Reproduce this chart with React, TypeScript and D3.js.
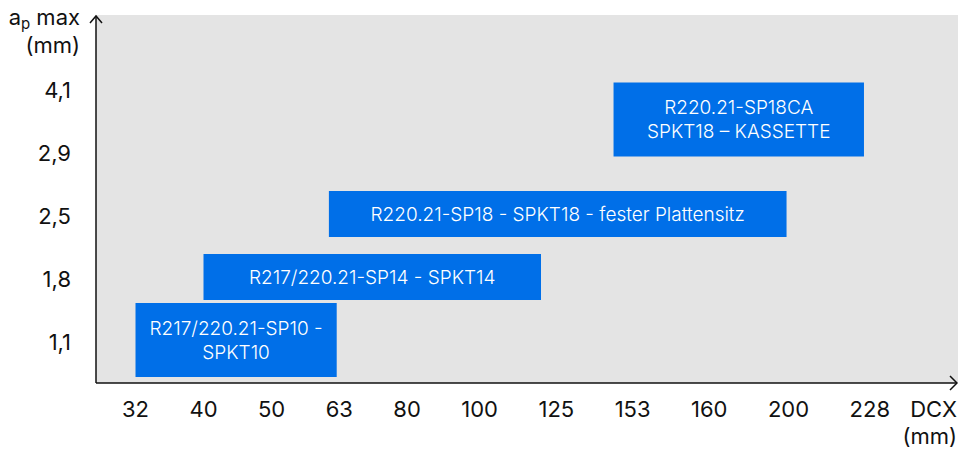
import React, { useEffect, useRef } from "react";
import * as d3 from "d3";

// cutter diameter DCX (mm) shown along the bottom
const dcxTicks = [32, 40, 50, 63, 80, 100, 125, 153, 160, 200, 228];
// max depth of cut ap (mm), bottom to top
const apTicks = ["1,1", "1,8", "2,5", "2,9", "4,1"];

// one entry per cutter family
const barLabels = [
  ["R217/220.21-SP10 -", "SPKT10"],
  ["R217/220.21-SP14 - SPKT14"],
  ["R220.21-SP18 - SPKT18 - fester Plattensitz"],
  ["R220.21-SP18CA", "SPKT18 – KASSETTE"],
];
const barDcxFrom = [32, 40, 61, 146];
const barDcxTo = [62.5, 120, 199, 226];
const barApFrom = ["1,1", "1,8", "2,5", "2,9"];
const barApTo = ["1,1", "1,8", "2,5", "4,1"];

const W = 958;
const H = 450;
const FONT = "Inter, 'Noto Sans', sans-serif";

export default function App() {
  const svgRef = useRef<SVGSVGElement | null>(null);

  useEffect(() => {
    if (!svgRef.current) return;
    document.body.style.margin = "0";

    const svg = d3.select(svgRef.current);
    svg.selectAll("*").remove();

    const plot = { left: 96, top: 15, right: 958, bottom: 383 };

    // plot background
    svg.append("rect")
      .attr("x", plot.left)
      .attr("y", plot.top)
      .attr("width", plot.right - plot.left)
      .attr("height", plot.bottom - plot.top)
      .attr("fill", "#e4e4e4");

    // y: categorical ap values
    const y = d3.scalePoint<string>().domain(apTicks).range([342, 90]);

    svg.append("g")
      .selectAll("text")
      .data(apTicks)
      .join("text")
      .attr("x", 71)
      .attr("y", d => y(d)!)
      .attr("text-anchor", "end")
      .attr("dominant-baseline", "central")
      .attr("font-family", FONT)
      .attr("font-size", 22)
      .attr("fill", "#111")
      .text(d => d);

    // y title
    const yt = svg.append("text")
      .attr("x", 80)
      .attr("y", 25)
      .attr("text-anchor", "end")
      .attr("font-family", FONT)
      .attr("font-size", 22)
      .attr("fill", "#111");
    yt.append("tspan").text("a");
    yt.append("tspan").attr("dy", 4).attr("font-size", 15).text("p");
    yt.append("tspan").attr("dy", -4).text(" max");
    svg.append("text")
      .attr("x", 80)
      .attr("y", 53)
      .attr("text-anchor", "end")
      .attr("font-family", FONT)
      .attr("font-size", 22)
      .attr("fill", "#111")
      .text("(mm)");

    // x tick labels laid out with equal gaps, like the original
    const xg = svg.append("g");
    const xt = xg.selectAll<SVGTextElement, number>("text")
      .data(dcxTicks)
      .join("text")
      .attr("y", 417)
      .attr("font-family", FONT)
      .attr("font-size", 22)
      .attr("fill", "#111")
      .text(d => String(d));

    const widths = xt.nodes().map(n => n.getComputedTextLength());
    const leftEdge = 122;
    const rightEdge = 890;
    const gap = (rightEdge - leftEdge - d3.sum(widths)) / (widths.length - 1);
    const centers: number[] = [];
    let cursor = leftEdge;
    widths.forEach(w => {
      centers.push(cursor + w / 2);
      cursor += w + gap;
    });
    xt.attr("x", (_, i) => centers[i]).attr("text-anchor", "middle");

    const x = d3.scaleLinear().domain(dcxTicks).range(centers);

    svg.append("text")
      .attr("x", 957)
      .attr("y", 417)
      .attr("text-anchor", "end")
      .attr("font-family", FONT)
      .attr("font-size", 22)
      .attr("fill", "#111")
      .text("DCX");
    svg.append("text")
      .attr("x", 957)
      .attr("y", 444)
      .attr("text-anchor", "end")
      .attr("font-family", FONT)
      .attr("font-size", 22)
      .attr("fill", "#111")
      .text("(mm)");

    // bars
    const textLineH = 24;
    const boxLineH = 28;
    const pad = 9;
    const boxH = (n: number) => n * boxLineH + 2 * pad;
    const bars = svg.append("g")
      .selectAll("g")
      .data(barLabels.map((lines, i) => ({
        lines,
        x0: x(barDcxFrom[i]),
        x1: x(barDcxTo[i]),
        cy: (y(barApFrom[i])! + y(barApTo[i])!) / 2 - 2,
      })))
      .join("g");

    bars.append("rect")
      .attr("x", d => d.x0)
      .attr("width", d => d.x1 - d.x0)
      .attr("y", d => d.cy - boxH(d.lines.length) / 2)
      .attr("height", d => boxH(d.lines.length))
      .attr("fill", "#006fe8");

    bars.each(function (d) {
      const g = d3.select(this);
      d.lines.forEach((line, j) => {
        g.append("text")
          .attr("x", (d.x0 + d.x1) / 2)
          .attr("y", d.cy + (j - (d.lines.length - 1) / 2) * textLineH)
          .attr("text-anchor", "middle")
          .attr("dominant-baseline", "central")
          .attr("font-family", FONT)
          .attr("font-size", 19)
          .attr("font-weight", 300)
          .attr("fill", "#fff")
          .text(line);
      });
    });

    // axes with open arrow heads
    const axis = svg.append("g")
      .attr("fill", "none")
      .attr("stroke", "#111")
      .attr("stroke-width", 1.5);
    axis.append("path").attr("d", `M${plot.left},${plot.bottom} V${plot.top + 1}`);
    axis.append("path").attr("d", `M${plot.left - 6},${plot.top + 8} L${plot.left},${plot.top + 1} L${plot.left + 6},${plot.top + 8}`);
    axis.append("path").attr("d", `M${plot.left},${plot.bottom} H${plot.right - 1}`);
    axis.append("path").attr("d", `M${plot.right - 8},${plot.bottom - 7} L${plot.right - 1},${plot.bottom} L${plot.right - 8},${plot.bottom + 7}`);
  }, []);

  return <svg ref={svgRef} width={W} height={H} style={{ display: "block" }} />;
}
